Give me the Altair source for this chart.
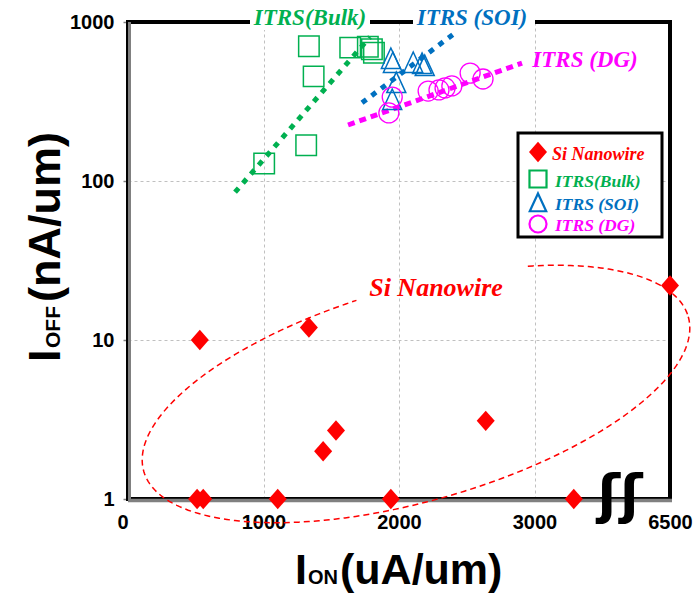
import altair as alt
import pandas as pd

# ---------------- data ----------------
nw_ion = [510, 555, 530, 1105, 1335, 1440, 1535, 1940, 2640, 3290, 6500]
nw_ioff = [1, 1, 10, 1, 12, 2.0, 2.7, 1, 3.1, 1, 22]

bulk_ion = [1335, 1640, 1770, 1800, 1815, 1370, 1315, 1005]
bulk_ioff = [705, 690, 700, 675, 640, 455, 168, 129]

soi_ion = [1940, 1955, 2105, 2170, 2190, 1980, 1950]
soi_ioff = [585, 552, 552, 545, 528, 413, 323]

dg_ion = [1950, 1925, 2215, 2295, 2340, 2390, 2525, 2620]
dg_ioff = [337, 268, 368, 374, 385, 396, 477, 438]

bulk_trend_ion = [790, 1786]
bulk_trend_ioff = [85, 805]
soi_trend_ion = [1727, 2413]
soi_trend_ioff = [310, 853]
dg_trend_ion = [1624, 2908]
dg_trend_ioff = [225, 552]

x_ticks = [0, 1000, 2000, 3000, 4000]
x_tick_labels = ["0", "1000", "2000", "3000", "6500"]
y_ticks = [1, 10, 100, 1000]

# ---------------- layout ----------------
W, H = 542, 477
PAD = {"left": 128, "top": 22, "right": 29, "bottom": 94}
GREEN, BLUE, MAGENTA, RED = "#00B050", "#0070C0", "#FF00FF", "#FF0000"
SERIF = "Liberation Serif"
SANS = "Liberation Sans"
TRI = "M0,-1.1L0.95,0.95L-0.95,0.95Z"
DIAM = "M0,-1L0.88,0L0,1L-0.88,0Z"

xscale = alt.Scale(domain=[0, 4000], nice=False, zero=False)
yscale = alt.Scale(type="log", domain=[1, 1000], nice=False)

label_expr = "{}[indexof({}, datum.value)]".format(
    "[" + ",".join("'%s'" % s for s in x_tick_labels) + "]",
    "[" + ",".join(str(v) for v in x_ticks) + "]",
)

xaxis = alt.Axis(values=x_ticks, labelExpr=label_expr, title=None, grid=True,
                 gridColor="#c0c0c0", gridDash=[3, 3], gridWidth=1, ticks=False,
                 domain=False, labelFont=SANS,
                 labelAlign={"condition": {"test": "datum.value == 0", "value": "right"},
                             "value": "center"},
                 labelFontWeight="bold", labelFontSize=20, labelColor="black",
                 labelPadding=13, labelFlush=False, labelOverlap=False)
yaxis = alt.Axis(values=y_ticks, format="d", title=None, grid=True,
                 gridColor="#c0c0c0", gridDash=[3, 3], gridWidth=1, ticks=True,
                 tickSize=5, tickColor="#808080", tickWidth=1.5,
                 domain=False, labelFont=SANS,
                 labelFontWeight="bold", labelFontSize=20, labelColor="black",
                 labelPadding=9, labelFlush=False, labelOverlap=False)

xenc = alt.X("xp:Q", scale=xscale, axis=xaxis)
yenc = alt.Y("ioff:Q", scale=yscale, axis=yaxis)

BREAK_EXPR = "datum.ion > 4000 ? 4000 : datum.ion"  # broken axis: 6500 drawn at the break end


def series(ion, ioff):
    return alt.Chart(pd.DataFrame({"ion": ion, "ioff": ioff})).transform_calculate(xp=BREAK_EXPR)


one = pd.DataFrame({"k": [0]})


def ptext(txt, x, y, color, size, font=SERIF, style="italic", align="center",
          angle=None, baseline="alphabetic"):
    kw = dict(text=txt, color=color, fontSize=size, font=font, fontWeight="bold",
              align=align, baseline=baseline)
    if style:
        kw["fontStyle"] = style
    if angle is not None:
        kw["angle"] = angle
    return alt.Chart(one).mark_text(**kw).encode(x=alt.value(x), y=alt.value(y))


def prect(x1, x2, y1, y2, **kw):
    return alt.Chart(one).mark_rect(**kw).encode(
        x=alt.value(x1), x2=alt.value(x2), y=alt.value(y1), y2=alt.value(y2))


def prule(x1, x2, y1, y2, **kw):
    return alt.Chart(one).mark_rule(**kw).encode(
        x=alt.value(x1), x2=alt.value(x2), y=alt.value(y1), y2=alt.value(y2))


def psym(shape, x, y, size, **kw):
    return alt.Chart(one).mark_point(shape=shape, size=size, opacity=1, **kw).encode(
        x=alt.value(x), y=alt.value(y))


# ---------------- layers ----------------
frame = [
    prect(0, W, 0, H, fillOpacity=0, stroke="black", strokeWidth=4),
    prule(1.5, 1.5, 0, H, color="#808080", strokeWidth=3),
    prule(0, W + 2, H + 1.5, H + 1.5, color="#808080", strokeWidth=3.5),
]

trend_bulk = series(bulk_trend_ion, bulk_trend_ioff).mark_line(
    color=GREEN, strokeWidth=5, strokeDash=[5.5, 6.5], strokeCap="butt").encode(x=xenc, y=yenc)
trend_soi = series(soi_trend_ion, soi_trend_ioff).mark_line(
    color=BLUE, strokeWidth=5, strokeDash=[5.5, 6.5], strokeCap="butt").encode(x=xenc, y=yenc)
trend_dg = series(dg_trend_ion, dg_trend_ioff).mark_line(
    color=MAGENTA, strokeWidth=5, strokeDash=[7, 5], strokeCap="butt").encode(x=xenc, y=yenc)

pts_bulk = series(bulk_ion, bulk_ioff).mark_point(
    shape="square", size=420, filled=False, stroke=GREEN, strokeWidth=1.5, opacity=1
).encode(x=xenc, y=yenc)
pts_soi = series(soi_ion, soi_ioff).mark_point(
    shape=TRI, size=400, filled=False, stroke=BLUE, strokeWidth=1.5, opacity=1
).encode(x=xenc, y=yenc)
pts_dg = series(dg_ion, dg_ioff).mark_point(
    shape="circle", size=400, filled=False, stroke=MAGENTA, strokeWidth=1.3, opacity=1
).encode(x=xenc, y=yenc)
pts_nw = series(nw_ion, nw_ioff).mark_point(
    shape=DIAM, size=420, filled=True, fill=RED, stroke=None, opacity=1
).encode(x=xenc, y=yenc)

# dashed ellipse around the nanowire points (annotation, pixel geometry -> data space)
cx, cy, ea, eb, ephi = 416 - 128, 394 - 22, 283, 107, -0.2766
gx0, gx1 = 358 - 128, 525 - 128
ellipse = alt.Chart(alt.sequence(0, 6.30, 0.02, as_="t")).transform_calculate(
    px=f"{cx} + {ea}*cos(datum.t)*cos({ephi}) - {eb}*sin(datum.t)*sin({ephi})",
    py=f"{cy} + {ea}*cos(datum.t)*sin({ephi}) + {eb}*sin(datum.t)*cos({ephi})",
).transform_filter(
    f"!(datum.px > {gx0} && datum.px < {gx1} && datum.py < {cy})"
).transform_calculate(
    seg=f"(datum.t > PI && datum.px >= {gx1}) ? 1 : 0",
    xp=f"datum.px / {W} * 4000",
    ioff=f"pow(10, 3 - datum.py / {H} * 3)",
).mark_line(color=RED, strokeWidth=1.5, strokeDash=[6, 4]).encode(
    x=xenc, y=yenc, detail="seg:N", order="t:Q")

# annotations
ann = [
    prect(122, 242, -6, 8, fill="white"),
    prect(285, 407, -6, 8, fill="white"),
    ptext("ITRS(Bulk)", 182, 3, GREEN, 23),
    ptext("ITRS (SOI)", 344, 3, BLUE, 23),
    ptext("ITRS (DG)", 457, 45, MAGENTA, 23),
    ptext("Si Nanowire", 308, 274, RED, 26),
    ptext("ʃʃ", 492, 475, "black", 54, font="DejaVu Sans", style=None, baseline="middle"),
]

# legend (manual so each label keeps its series colour)
legend = [
    prect(390, 534, 111, 215, fill="white", stroke="black", strokeWidth=3),
    psym(DIAM, 410, 130, 420, filled=True, fill=RED, stroke=None),
    ptext("Si Nanowire", 424, 138, RED, 18, align="left"),
    psym("square", 410, 157, 290, filled=False, stroke=GREEN, strokeWidth=2.2),
    ptext("ITRS(Bulk)", 427, 165, GREEN, 17.5, align="left"),
    psym(TRI, 410, 181, 300, filled=False, stroke=BLUE, strokeWidth=2.2),
    ptext("ITRS (SOI)", 427, 188, BLUE, 17.5, align="left"),
    psym("circle", 410, 202, 290, filled=False, stroke=MAGENTA, strokeWidth=2.2),
    ptext("ITRS (DG)", 427, 209, MAGENTA, 17.5, align="left"),
]

# axis titles with small subscripts
titles = [
    ptext("I", 167, 562, "black", 43, font=SANS, style=None, align="left"),
    ptext("ON", 180, 562, "black", 20, font=SANS, style=None, align="left"),
    ptext("(uA/um)", 212, 562, "black", 43, font=SANS, style=None, align="left"),
    ptext("I", -68, 340, "black", 45, font=SANS, style=None, align="left", angle=270),
    ptext("OFF", -68, 326, "black", 21, font=SANS, style=None, align="left", angle=270),
    ptext("(nA/um)", -68, 280, "black", 45, font=SANS, style=None, align="left", angle=270),
]

chart = alt.layer(
    *frame,
    trend_bulk, trend_soi, trend_dg, ellipse,
    pts_bulk, pts_soi, pts_dg, pts_nw,
    *ann, *legend, *titles
).properties(
    width=W, height=H, padding=PAD, autosize="none", background="white"
).configure_view(strokeWidth=0)

chart.save("out.html", embed_options={"renderer": "svg", "actions": False})
